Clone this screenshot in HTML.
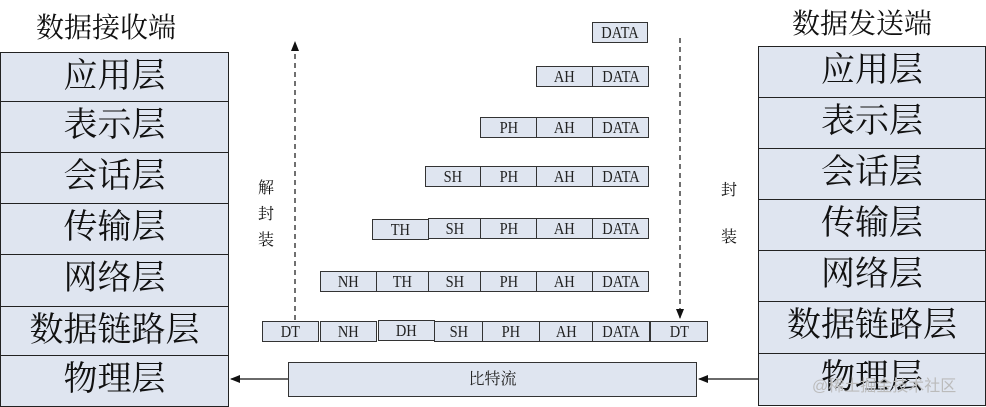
<!DOCTYPE html>
<html><head><meta charset="utf-8"><style>
body{margin:0;width:986px;height:406px;background:#fff;position:relative;overflow:hidden;font-family:"Liberation Serif","Noto Serif CJK SC",serif;}
.a{position:absolute;box-sizing:border-box;}
.L{background:#dfe5f0;border:1.5px solid #222;text-align:center;font-size:34px;line-height:48px;color:#111;}
.p{background:#dfe5f0;border:1px solid #333;text-align:center;font-size:17px;line-height:19px;height:21px;color:#222;}
.p span{display:inline-block;transform:scaleX(0.85);}
.t{font-size:28px;color:#111;}
.s{font-size:16px;color:#111;}
</style></head><body>
<div class="a t" style="left:36px;top:6px">数据接收端</div>
<div class="a t" style="left:792px;top:2px">数据发送端</div>
<div class="a L" style="left:0;top:52px;width:229px;height:50px">应用层</div>
<div class="a L" style="left:0;top:101px;width:229px;height:52px">表示层</div>
<div class="a L" style="left:0;top:152px;width:229px;height:52px">会话层</div>
<div class="a L" style="left:0;top:203px;width:229px;height:52px">传输层</div>
<div class="a L" style="left:0;top:254px;width:229px;height:53px">网络层</div>
<div class="a L" style="left:0;top:306px;width:229px;height:50px">数据链路层</div>
<div class="a L" style="left:0;top:355px;width:229px;height:52px">物理层</div>
<div class="a L" style="left:758px;top:46px;width:228px;height:52px">应用层</div>
<div class="a L" style="left:758px;top:97px;width:228px;height:52px">表示层</div>
<div class="a L" style="left:758px;top:148px;width:228px;height:52px">会话层</div>
<div class="a L" style="left:758px;top:199px;width:228px;height:52px">传输层</div>
<div class="a L" style="left:758px;top:250px;width:228px;height:52px">网络层</div>
<div class="a L" style="left:758px;top:301px;width:228px;height:53px">数据链路层</div>
<div class="a L" style="left:758px;top:353px;width:228px;height:53px">物理层</div>

<div class="a p" style="left:592px;top:22px;width:56px"><span>DATA</span></div>
<div class="a p" style="left:536px;top:66px;width:57px"><span>AH</span></div>
<div class="a p" style="left:592px;top:66px;width:57px"><span>DATA</span></div>
<div class="a p" style="left:480px;top:117px;width:57px"><span>PH</span></div>
<div class="a p" style="left:536px;top:117px;width:57px"><span>AH</span></div>
<div class="a p" style="left:592px;top:117px;width:57px"><span>DATA</span></div>
<div class="a p" style="left:425px;top:166px;width:56px"><span>SH</span></div>
<div class="a p" style="left:480px;top:166px;width:57px"><span>PH</span></div>
<div class="a p" style="left:536px;top:166px;width:57px"><span>AH</span></div>
<div class="a p" style="left:592px;top:166px;width:57px"><span>DATA</span></div>
<div class="a p" style="left:372px;top:219px;width:57px"><span>TH</span></div>
<div class="a p" style="left:428px;top:218px;width:53px"><span>SH</span></div>
<div class="a p" style="left:480px;top:218px;width:57px"><span>PH</span></div>
<div class="a p" style="left:536px;top:218px;width:57px"><span>AH</span></div>
<div class="a p" style="left:592px;top:218px;width:57px"><span>DATA</span></div>
<div class="a p" style="left:320px;top:271px;width:57px"><span>NH</span></div>
<div class="a p" style="left:376px;top:271px;width:53px"><span>TH</span></div>
<div class="a p" style="left:428px;top:271px;width:53px"><span>SH</span></div>
<div class="a p" style="left:480px;top:271px;width:57px"><span>PH</span></div>
<div class="a p" style="left:536px;top:271px;width:57px"><span>AH</span></div>
<div class="a p" style="left:592px;top:271px;width:57px"><span>DATA</span></div>
<div class="a p" style="left:262px;top:321px;width:57px"><span>DT</span></div>
<div class="a p" style="left:320px;top:321px;width:57px"><span>NH</span></div>
<div class="a p" style="left:378px;top:320px;width:57px"><span>DH</span></div>
<div class="a p" style="left:434px;top:321px;width:49px"><span>SH</span></div>
<div class="a p" style="left:482px;top:321px;width:58px"><span>PH</span></div>
<div class="a p" style="left:539px;top:321px;width:54px"><span>AH</span></div>
<div class="a p" style="left:592px;top:321px;width:58px"><span>DATA</span></div>
<div class="a p" style="left:650px;top:321px;width:58px"><span>DT</span></div>
<div class="a p" style="left:288px;top:362px;width:409px;height:35px;line-height:33px;font-size:16px">比特流</div>

<div class="a s" style="left:258px;top:176px;line-height:26px;width:20px">解<br>封<br>装</div>
<div class="a s" style="left:721px;top:177px">封</div>
<div class="a s" style="left:721px;top:224px">装</div>
<div class="a" style="left:812px;top:372px;font-size:16px;color:#bbb;font-family:'Liberation Sans','Noto Sans CJK SC',sans-serif">@稀土掘金技术社区</div>

<svg class="a" style="left:0;top:0" width="986" height="406">
<defs><marker id="m" markerWidth="10" markerHeight="10" refX="9" refY="4" orient="auto" markerUnits="userSpaceOnUse"><path d="M0,0 L10,4 L0,8 z" fill="#111"/></marker></defs>
<line x1="295" y1="320" x2="295" y2="42" stroke="#111" stroke-width="1.2" stroke-dasharray="5,4" marker-end="url(#m)"/>
<line x1="680" y1="38" x2="680" y2="318" stroke="#111" stroke-width="1.2" stroke-dasharray="5,4" marker-end="url(#m)"/>
<line x1="288" y1="379" x2="231" y2="379" stroke="#111" stroke-width="1.2" marker-end="url(#m)"/>
<line x1="758" y1="379" x2="699" y2="379" stroke="#111" stroke-width="1.2" marker-end="url(#m)"/>
</svg>
</body></html>
